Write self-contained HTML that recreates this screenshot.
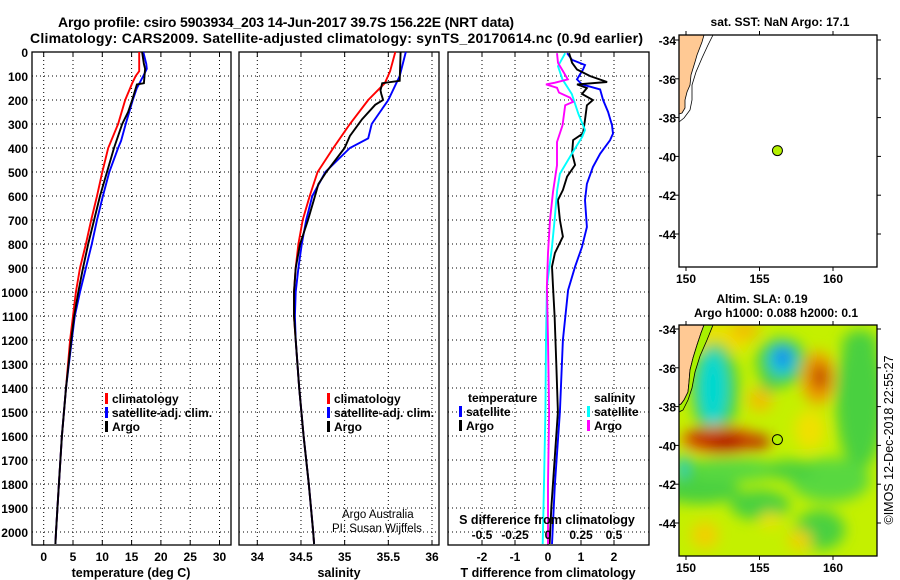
<!DOCTYPE html>
<html><head><meta charset="utf-8">
<style>
html,body{margin:0;padding:0;background:#fff;}
svg{display:block;font-family:"Liberation Sans",Arial,sans-serif;}
.t{font-weight:bold;font-size:12px;}
.plain{font-weight:normal;font-size:11.5px;}
.ttl{font-weight:bold;font-size:14px;}
.ax{font-weight:bold;font-size:12.5px;}
</style></head>
<body>
<svg id="chart" width="900" height="580" viewBox="0 0 900 580">
<defs>
<filter id="blur" x="-50%" y="-50%" width="200%" height="200%"><feGaussianBlur stdDeviation="7"/></filter>
<clipPath id="clipMap2"><rect x="679" y="325" width="198" height="231"/></clipPath>
</defs>
<text class="ttl" x="58" y="27" textLength="456">Argo profile: csiro 5903934_203 14-Jun-2017 39.7S 156.22E (NRT data)</text>
<text class="ttl" x="30" y="43" textLength="613">Climatology: CARS2009. Satellite-adjusted climatology: synTS_20170614.nc (0.9d earlier)</text>
<g id="plots"></g>
</svg>
<script>
// ---- data ----
const depthTicks = [0,100,200,300,400,500,600,700,800,900,1000,1100,1200,1300,1400,1500,1600,1700,1800,1900,2000];
const tempTicks = [0,5,10,15,20,25,30];
const salTicks = [34,34.5,35,35.5,36];
const salTickLabels = ["34","34.5","35","35.5","36"];
const dTTicks = [-2,-1,0,1,2];
const dSTickLabels = ["-0.5","-0.25","0","0.25","0.5"];
const dSTicks = [-0.5,-0.25,0,0.25,0.5];

const tempDepthClim = [0,80,100,130,200,300,400,500,600,700,800,900,1000,1100,1200,1400,1600,1800,2000,2050];
const tempClim = [16.3,16.3,15.7,15.1,13.9,12.7,11.0,10.0,9.1,8.1,7.2,6.2,5.5,5.0,4.5,3.8,3.1,2.6,2.1,2.0];
const tempDepthArgo = [0,50,70,130,135,200,250,300,400,500,600,700,800,900,1000,1100,1200,1400,1600,1800,2000,2050];
const tempArgo = [16.8,17.1,17.3,17.1,15.9,15.1,14.4,13.4,12.0,10.8,9.6,8.6,7.6,6.7,5.9,5.2,4.7,3.8,3.1,2.6,2.1,2.0];
const tempDepthSat = [0,50,70,100,150,200,300,370,400,500,600,700,800,900,1000,1100,1200,1400,1600,1800,2000,2050];
const tempSat = [17.0,17.5,17.6,17.0,15.9,15.2,14.0,13.2,12.7,11.2,10.1,9.1,8.2,7.2,6.2,5.3,4.8,3.8,3.1,2.6,2.1,2.0];

const salDepthClim = [0,80,130,200,300,400,500,600,700,800,900,1000,1100,1200,1400,1600,1800,2000,2050];
const salClim = [35.58,35.52,35.46,35.27,35.06,34.87,34.69,34.60,34.52,34.47,34.44,34.42,34.42,34.44,34.48,34.53,34.59,34.64,34.65];
const salDepthArgo = [0,120,130,160,175,200,220,280,350,400,500,550,600,700,800,900,1000,1100,1200,1400,1600,1800,2000,2050];
const salArgo = [35.64,35.63,35.43,35.41,35.42,35.44,35.35,35.2,35.06,35.0,34.79,34.7,34.66,34.58,34.49,34.44,34.42,34.42,34.44,34.48,34.53,34.59,34.64,34.65];
const salDepthSat = [0,100,200,300,360,400,500,600,700,800,900,1000,1100,1200,1400,1600,1800,2000,2050];
const salSat = [35.70,35.63,35.5,35.31,35.27,35.06,34.78,34.63,34.56,34.51,34.47,34.44,34.43,34.44,34.48,34.53,34.59,34.64,34.65];

const dTArgoDepth = [5,45,73,100,125,135,150,175,200,222,283,339,367,422,471,519,575,617,700,769,838,894,977,1100,1300,1500,1700,1900,2050];
const dTArgo = [0.64,0.73,0.88,1.27,1.79,0.88,1.18,1.03,1.36,1.18,1.12,1.06,0.76,0.73,0.82,0.58,0.45,0.30,0.36,0.45,0.21,0.12,0.15,0.2,0.25,0.3,0.2,0.1,0.05];
const dTSatDepth = [5,33,54,73,114,135,156,200,250,305,340,368,424,479,549,617,729,812,894,992,1200,1500,1800,2050];
const dTSat = [0.58,0.73,1.12,1.06,0.88,1.03,1.58,1.67,1.82,1.94,1.97,1.88,1.58,1.36,1.18,1.12,1.18,1.03,0.82,0.61,0.45,0.36,0.21,0.12];
const dSSatDepth = [5,59,114,175,258,325,353,424,507,575,700,812,977,1200,1500,1800,2050];
const dSSat = [0.13,0.076,0.11,0.18,0.23,0.28,0.26,0.18,0.09,0.07,0.05,0.03,-0.008,-0.015,-0.02,-0.03,-0.04];
const dSArgoDepth = [5,45,73,114,128,135,149,169,190,208,222,306,375,472,583,700,838,977,1200,1500,1800,2050];
const dSArgo = [0.068,0.076,0.106,0.15,0.053,-0.015,0.068,0.083,0.167,0.19,0.13,0.11,0.068,0.068,0.038,0.015,0.0,-0.008,0.0,0.008,0.0,0.0];

const lonTicks = [150,155,160];
const latTicks = [-34,-36,-38,-40,-42,-44];
const argoLon = 156.22;
const argoLat = -39.7;

// ---- helpers ----
const NS = "http://www.w3.org/2000/svg";
const root = document.getElementById('plots');
function mk(tag, attrs, parent){
  const e = document.createElementNS(NS, tag);
  for (const k in attrs) e.setAttribute(k, attrs[k]);
  (parent||root).appendChild(e);
  return e;
}
function txt(s, x, y, cls, anchor, parent){
  const e = mk('text', {x:x, y:y, class:cls, 'text-anchor':anchor||'start'}, parent);
  e.textContent = s;
  return e;
}
const yD = d => 52 + d * 0.24;
const PB = 545;

function panel(name, x0, x1, xScale, ticks, labels){
  const g = mk('g', {});
  
  
  depthTicks.forEach(d => {
    if (d === 0) return;
    const l = mk('line', {x1:x0, x2:x1, y1:yD(d), y2:yD(d), stroke:'#000', 'stroke-width':1, 'stroke-dasharray':'1,3'}, g);
    
    
  });
  ticks.forEach(v => {
    const X = xScale(v);
    const l = mk('line', {x1:X, x2:X, y1:52, y2:PB, stroke:'#000', 'stroke-width':1, 'stroke-dasharray':'1,3'}, g);
    
    
    mk('line', {x1:X, x2:X, y1:52, y2:57, stroke:'#000'}, g);
    mk('line', {x1:X, x2:X, y1:PB, y2:PB-5, stroke:'#000'}, g);
  });
  const r = mk('rect', {x:x0, y:52, width:x1-x0, height:PB-52, fill:'none', stroke:'#000', 'stroke-width':1.3}, g);
  
  
  if (labels) labels.forEach((s,i) => {
    const t = txt(s, xScale(ticks[i]), 561, 't', 'middle', g);
    
    
  });
  return g;
}
function line(g, xs, ds, xScale, color, name, w){
  const pts = xs.map((v,i) => xScale(v).toFixed(1) + ',' + yD(ds[i]).toFixed(1)).join(' ');
  const p = mk('polyline', {points:pts, fill:'none', stroke:color, 'stroke-width':w||1.9, 'stroke-linejoin':'miter'}, g);
  
  
}
function legendMark(g, x, y, color){
  mk('rect', {x:x, y:y-10, width:3, height:11, fill:color}, g);
}

// ---- panel 1: temperature ----
const xT = v => 43.7 + v * 5.86;
const g1 = panel('temperature-panel', 32, 231, xT, tempTicks, tempTicks.map(String));
depthTicks.forEach(d => {
  const t = txt(String(d), 28, yD(d) + 5, 't', 'end');
  
  
});
line(g1, tempClim, tempDepthClim, xT, '#f00', 'temp-climatology-line');
line(g1, tempSat, tempDepthSat, xT, '#00f', 'temp-satellite-line');
line(g1, tempArgo, tempDepthArgo, xT, '#000', 'temp-argo-line');
txt('temperature (deg C)', 131, 577, 'ax', 'middle', g1);
[['climatology','#f00',403],['satellite-adj. clim.','#00f',417],['Argo','#000',431]].forEach(a => {
  legendMark(g1, 105, a[2], a[1]);
  const t = txt(a[0], 112, a[2], 't', 'start', g1);
  
  
});

// ---- panel 2: salinity ----
const xS = v => 257.3 + (v - 34) * 87.35;
const g2 = panel('salinity-panel', 239, 439, xS, salTicks, salTickLabels);
line(g2, salClim, salDepthClim, xS, '#f00', 'sal-climatology-line');
line(g2, salSat, salDepthSat, xS, '#00f', 'sal-satellite-line');
line(g2, salArgo, salDepthArgo, xS, '#000', 'sal-argo-line');
txt('salinity', 339, 577, 'ax', 'middle', g2);
[['climatology','#f00',403],['satellite-adj. clim.','#00f',417],['Argo','#000',431]].forEach(a => {
  legendMark(g2, 327, a[2], a[1]);
  const t = txt(a[0], 334, a[2], 't', 'start', g2);
  
  
});
const cr1 = txt('Argo Australia', 342, 518, 'plain', 'start', g2);


const cr2 = txt('PI: Susan Wijffels', 332, 532, 'plain', 'start', g2);



// ---- panel 3: differences ----
const xDT = v => 548 + v * 33;
const xDS = v => 548 + v * 132;
const g3 = panel('difference-panel', 448, 649, xDT, dTTicks, dTTicks.map(String));
line(g3, dTSat, dTSatDepth, xDT, '#00f', 'tdiff-satellite-line');
line(g3, dTArgo, dTArgoDepth, xDT, '#000', 'tdiff-argo-line');
line(g3, dSSat, dSSatDepth, xDS, '#0ff', 'sdiff-satellite-line');
line(g3, dSArgo, dSArgoDepth, xDS, '#f0f', 'sdiff-argo-line');
txt('T difference from climatology', 548, 577, 'ax', 'middle', g3);
txt('S difference from climatology', 547, 524, 'ax', 'middle', g3);
dSTicks.forEach((v,i) => {
  const t = txt(dSTickLabels[i], xDS(v), 539, 't', 'middle', g3);
  
  
});
txt('temperature', 468, 402, 't', 'start', g3);
txt('salinity', 594, 402, 't', 'start', g3);
[['satellite','#00f',416,459],['Argo','#000',430,459]].forEach(a => {
  legendMark(g3, a[3], a[2], a[1]);
  const t = txt(a[0], a[3]+7, a[2], 't', 'start', g3);
  
  
});
[['satellite','#0ff',416,587],['Argo','#f0f',430,587]].forEach(a => {
  legendMark(g3, a[3], a[2], a[1]);
  const t = txt(a[0], a[3]+7, a[2], 't', 'start', g3);
  
  
});

// ---- maps ----
const xLon = v => 686 + (v - 150) * 14.7;
function mapAxes(g, top, bottom, yLat){
  lonTicks.forEach(v => {
    const X = xLon(v);
    mk('line', {x1:X, x2:X, y1:top, y2:top-4, stroke:'#000'}, g);
    mk('line', {x1:X, x2:X, y1:bottom, y2:bottom+4, stroke:'#000'}, g);
    const t = txt(String(v), X, bottom + 16, 't', 'middle', g);
    
    
  });
  latTicks.forEach(v => {
    const Y = yLat(v);
    mk('line', {x1:679, x2:675, y1:Y, y2:Y, stroke:'#000'}, g);
    mk('line', {x1:877, x2:881, y1:Y, y2:Y, stroke:'#000'}, g);
    const t = txt(String(v), 676, Y + 5, 't', 'end', g);
    
    
  });
}
// map 1
const yLat1 = v => 40 + (-34 - v) * 19.4;
const m1 = mk('g', {});


mk('rect', {x:679, y:35, width:198, height:232, fill:'#fff'}, m1);
const land1 = mk('polygon', {points:'679,35 704,35 702,42 697,55 695,62 691,75 690,85 687,92 685,100 685,108 682,113 679,114', fill:'#ffc994', stroke:'#000', 'stroke-width':0.8}, m1);


mk('polyline', {points:'713,35 708,45 702,58 696,72 692,85 692,100 690,110 684,118 679,122', fill:'none', stroke:'#000', 'stroke-width':0.8}, m1);
mk('rect', {x:679, y:35, width:198, height:232, fill:'none', stroke:'#000', 'stroke-width':1.3}, m1);
mapAxes(m1, 35, 267, yLat1);
const d1 = mk('circle', {cx:xLon(argoLon), cy:yLat1(argoLat), r:5, fill:'#b4f000', stroke:'#000', 'stroke-width':1}, m1);


txt('sat. SST: NaN Argo: 17.1', 780, 26, 't', 'middle', m1);

// map 2 (SLA)
const yLat2 = v => 329 + (-34 - v) * 19.4;
const m2 = mk('g', {});


const hm = mk('g', {'clip-path':'url(#clipMap2)'}, m2);
mk('rect', {x:679, y:325, width:198, height:231, fill:'#c4f000'}, hm);
const blobs = mk('g', {filter:'url(#blur)'}, hm);
const B = [
 [860,400,24,70,'#48d040'],[830,480,40,22,'#58d840'],[760,505,30,15,'#48d040'],[820,530,25,20,'#48d040'],
 [700,490,40,14,'#48d040'],[730,470,50,12,'#58d840'],[790,470,25,10,'#48d040'],[770,383,10,10,'#48d040'],
 [860,345,18,15,'#48d040'],[705,535,14,14,'#f0d000'],[800,540,12,10,'#f0d000'],[770,520,10,8,'#f0e000'],
 [720,340,30,15,'#f0e000'],[745,330,15,10,'#f0c000'],[760,400,12,12,'#f0c000'],[810,430,15,20,'#f0e000'],
 [715,390,24,48,'#48d040'],[713,388,15,38,'#00d8d0'],[782,362,26,24,'#48d040'],[782,360,14,16,'#00c8e0'],
 [783,357,7,9,'#2070f0'],[818,378,17,27,'#f0a000'],[820,377,8,14,'#c04000'],[720,440,40,14,'#f08000'],
 [725,441,28,10,'#b00000'],[700,438,14,8,'#c02000'],[755,442,16,8,'#c03000'],[684,470,10,16,'#48d040'],[682,468,5,10,'#00d0d0']
];
B.forEach(b => {
  const e = mk('ellipse', {cx:b[0], cy:b[1], rx:b[2], ry:b[3], fill:b[4]}, blobs);
  
  
});
const land2 = mk('polygon', {points:'679,325 704,325 701,333 697,345 693,358 690,370 689,382 688,392 684,400 681,404 679,405', fill:'#ffc994', stroke:'#000', 'stroke-width':0.8}, hm);


mk('polygon', {points:'704,325 713,325 707,340 700,356 695,372 692,388 688,400 683,410 679,412 679,405 681,404 684,400 688,392 689,382 690,370 693,358 697,345 701,333', fill:'#a8f000', stroke:'#000', 'stroke-width':0.8}, hm);
mk('rect', {x:679, y:325, width:198, height:231, fill:'none', stroke:'#000', 'stroke-width':1.3}, m2);
mapAxes(m2, 325, 556, yLat2);
const d2 = mk('circle', {cx:xLon(argoLon), cy:yLat2(argoLat), r:5, fill:'#b4f000', stroke:'#000', 'stroke-width':1}, m2);


txt('Altim. SLA: 0.19', 762, 303, 't', 'middle', m2);
txt('Argo h1000: 0.088 h2000: 0.1', 776, 317, 't', 'middle', m2);
const ts = txt('©IMOS 12-Dec-2018 22:55:27', 0, 0, 'plain', 'middle', m2);
ts.setAttribute('font-size', '12.5');
ts.setAttribute('style', 'font-size:12.5px');
ts.setAttribute('transform', 'translate(893,440) rotate(-90)');


</script>
</body></html>
